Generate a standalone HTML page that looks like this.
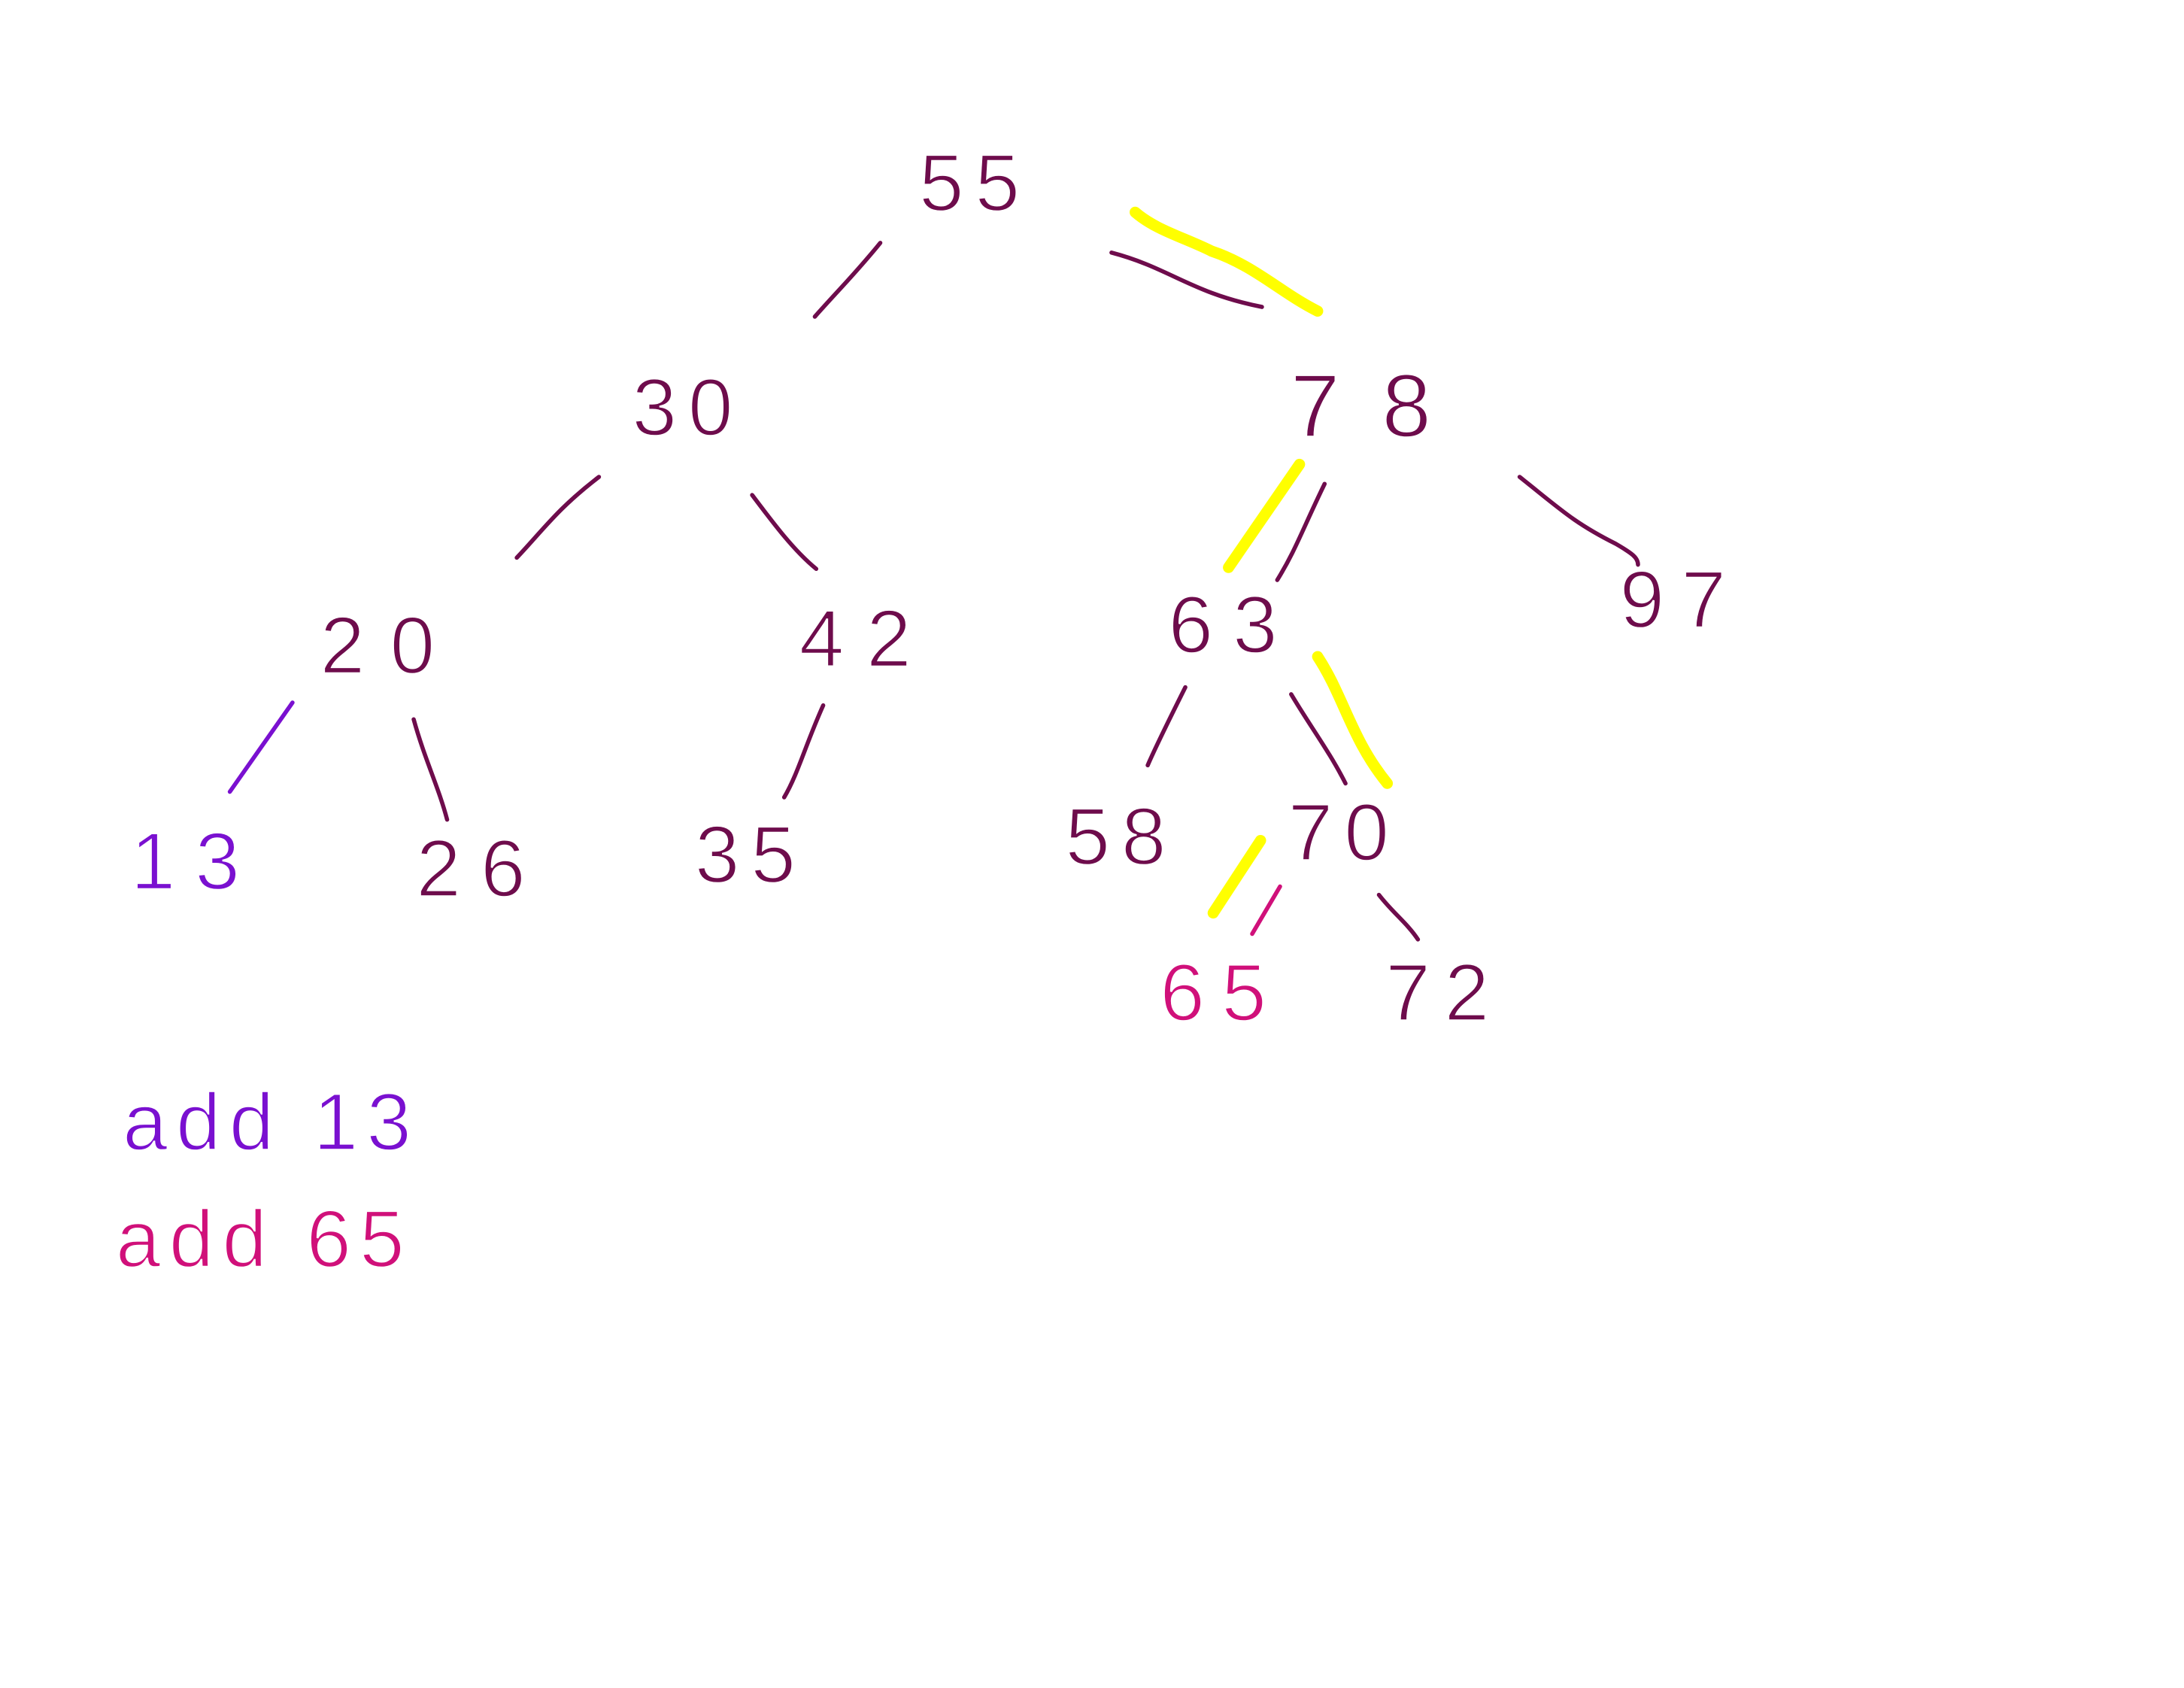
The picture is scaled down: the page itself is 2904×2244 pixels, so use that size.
<!DOCTYPE html>
<html>
<head>
<meta charset="utf-8">
<style>
html,body{margin:0;padding:0;background:#fff;}
svg{display:block;}
text{font-family:"Liberation Sans",sans-serif;stroke:#fff;stroke-width:1.3;}
</style>
</head>
<body>
<svg width="2904" height="2244" viewBox="0 0 1568 1211" xmlns="http://www.w3.org/2000/svg">
<rect width="1568" height="1211" fill="#fff"/>
<g stroke="#ffff00" stroke-width="8" stroke-linecap="round" fill="none">
<path d="M815,152 C830,165 850,170 870,180 C900,190 920,210 946,223"/>
<path d="M933,333 L882,407"/>
<path d="M946,471 C965,500 970,530 996,562"/>
<path d="M905,603 L871,655"/>
</g>
<g stroke="#6e0c4c" stroke-width="3" stroke-linecap="round" fill="none">
<path d="M632,174 C615,195 600,210 585,227"/>
<path d="M798,181 C840,192 855,210 906,220"/>
<path d="M951,347 C935,380 930,395 917,416"/>
<path d="M1091,342 C1120,365 1130,375 1160,390 C1172,397 1176,400 1176,405"/>
<path d="M430,342 C400,365 390,380 371,400"/>
<path d="M540,355 C555,375 570,395 586,408"/>
<path d="M297,516 C305,545 315,565 321,588"/>
<path d="M591,506 C578,535 573,555 563,572"/>
<path d="M851,493 C840,515 830,535 824,549"/>
<path d="M927,498 C940,520 955,540 966,562"/>
<path d="M990,642 C1000,655 1010,662 1018,674"/>
<path d="M210,504 L165,568" stroke="#7a10d0"/>
<path d="M919,636 L899,670" stroke="#d0107a"/>
</g>
<g fill="#6e0c4c" font-size="58" text-anchor="middle" letter-spacing="8">
<text x="700" y="151">55</text>
<text x="494" y="312">30</text>
<text x="992" y="313" font-size="64" letter-spacing="30">78</text>
<text x="280" y="483" letter-spacing="18">20</text>
<text x="622" y="478" letter-spacing="16">42</text>
<text x="885" y="468" letter-spacing="14">63</text>
<text x="1207" y="450" letter-spacing="12">97</text>
<text x="140" y="638" fill="#7a10d0" letter-spacing="14">13</text>
<text x="345" y="643" letter-spacing="14">26</text>
<text x="539" y="633">35</text>
<text x="805" y="620">58</text>
<text x="965" y="617">70</text>
<text x="877" y="732" fill="#d0107a" letter-spacing="12">65</text>
<text x="1037" y="732" letter-spacing="10">72</text>
</g>
<g font-size="58">
<text x="88" y="825" fill="#7a10d0" letter-spacing="6">add 13</text>
<text x="83" y="909" fill="#d0107a" letter-spacing="6">add 65</text>
</g>
</svg>
</body>
</html>
